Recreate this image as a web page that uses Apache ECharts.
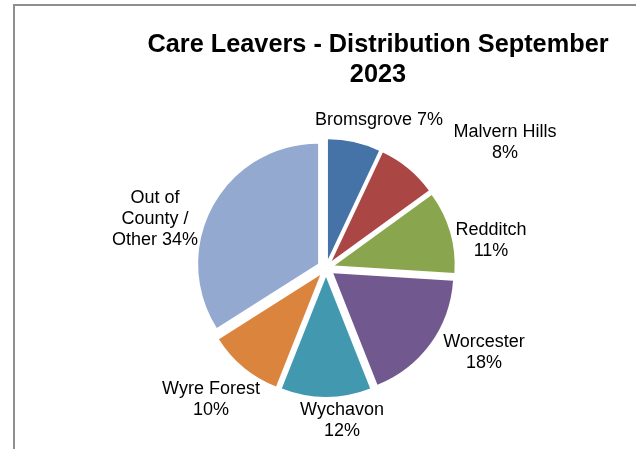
<!DOCTYPE html>
<html><head><meta charset="utf-8">
<script src="https://cdn.jsdelivr.net/npm/echarts@6/dist/echarts.min.js"></script>
<style>html,body{margin:0;padding:0;background:#fff}#c{width:636px;height:449px}</style>
</head><body><div id="c"></div>
<script>
const categories = ["Bromsgrove", "Malvern Hills", "Redditch", "Worcester", "Wychavon", "Wyre Forest", "Out of County / Other"];
const values = [7, 8, 11, 18, 12, 10, 34];
const labelTexts = ["Bromsgrove 7%", "Malvern Hills\n8%", "Redditch\n11%", "Worcester\n18%", "Wychavon\n12%", "Wyre Forest\n10%", "Out of\nCounty /\nOther 34%"];
const colors = ["#4572A7", "#AA4643", "#89A54E", "#71588F", "#4198AF", "#DB843D", "#93A9CF"];
const titleText = "Care Leavers - Distribution September\n2023";

// label placement (offsets of label centres from the pie centre), layout only
const pieCenter = [326, 268];
const labelOffsets = [[53, -148], [179, -125], [165, -27], [158, 85], [16, 153], [-115, 132], [-171, -49]];

const labelGraphics = labelTexts.map((t, i) => ({
  type: 'text', silent: true,
  x: pieCenter[0] + labelOffsets[i][0],
  y: pieCenter[1] + labelOffsets[i][1],
  style: {text: t, fill: '#000', font: '18px "Liberation Sans"', lineHeight: 21, align: 'center', verticalAlign: 'middle'}
}));

const chart = echarts.init(document.getElementById('c'), null, {renderer: 'canvas'});
chart.setOption({
  animation: false,
  backgroundColor: '#fff',
  title: {
    text: titleText,
    left: 373, top: 25, textAlign: 'center',
    textStyle: {fontFamily: 'Liberation Sans', fontWeight: 'bold', fontSize: 25.3, color: '#000', lineHeight: 30}
  },
  graphic: [{
    type: 'rect', shape: {x: 14, y: 5, width: 700, height: 500},
    style: {fill: 'none', stroke: '#8e8e8e', lineWidth: 2}, silent: true
  }].concat(labelGraphics),
  series: [{
    type: 'pie',
    center: pieCenter,
    radius: [0, 120],
    startAngle: 90,
    clockwise: true,
    selectedMode: 'multiple',
    selectedOffset: 9,
    emphasis: {disabled: true},
    label: {show: false},
    labelLine: {show: false},
    data: categories.map((c, i) => ({name: c, value: values[i], selected: true, itemStyle: {color: colors[i]}}))
  }]
});
</script></body></html>
